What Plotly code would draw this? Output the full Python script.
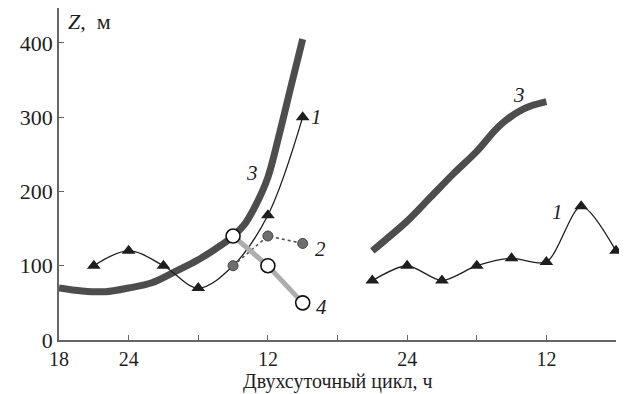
import plotly.graph_objects as go

# hours from 18:00 of day 1 (two-day cycle)
tick_hours = [0, 6, 12, 18, 24, 30, 36, 42, 48]
tick_labels = ["18", "24", "", "12", "", "24", "", "12", ""]
y_ticks = [0, 100, 200, 300, 400]

# series 1 (triangles)
s1a_x = [3, 6, 9, 12, 15, 18, 21]
s1a_y = [100, 120, 100, 70, 100, 168, 300]
s1a_marker_x = [3, 6, 9, 12, 18, 21]
s1a_marker_y = [100, 120, 100, 70, 168, 300]
s1b_x = [27, 30, 33, 36, 39, 42, 45, 48]
s1b_y = [80, 100, 80, 100, 110, 105, 180, 120]

# series 2 (gray dots, dotted)
s2_x = [15, 18, 21]
s2_y = [100, 140, 130]

# series 3 (thick curve)
s3a_x = [0, 2, 4, 6, 8, 10, 12, 14, 15, 16, 17, 18, 19, 20, 21]
s3a_y = [70, 66, 65, 70, 77, 92, 108, 128, 140, 156, 183, 219, 278, 342, 405]
s3b_x = [27, 28, 30, 32, 34, 36, 38, 40, 42]
s3b_y = [120, 133, 160, 192, 224, 254, 289, 311, 321]

# series 4 (open circles)
s4_x = [15, 18, 21]
s4_y = [140, 100, 50]

SERIF = '"Liberation Serif", "Times New Roman", "DejaVu Serif", serif'
INK = "#1e1e1e"

fig = go.Figure()

fig.add_trace(go.Scatter(x=s3a_x, y=s3a_y, mode="lines",
                         line=dict(color="#4d4d4d", width=7, shape="spline", smoothing=1.0)))
fig.add_trace(go.Scatter(x=s3b_x, y=s3b_y, mode="lines",
                         line=dict(color="#4d4d4d", width=7, shape="spline", smoothing=1.0)))

fig.add_trace(go.Scatter(x=s1a_x, y=s1a_y, mode="lines",
                         line=dict(color=INK, width=1.3, shape="spline", smoothing=1.0)))
fig.add_trace(go.Scatter(x=s1a_marker_x, y=s1a_marker_y, mode="markers",
                         marker=dict(symbol="triangle-up", size=12, color=INK)))
fig.add_trace(go.Scatter(x=s1b_x, y=s1b_y, mode="lines+markers",
                         line=dict(color=INK, width=1.3, shape="spline", smoothing=0.8),
                         marker=dict(symbol="triangle-up", size=12, color=INK)))

fig.add_trace(go.Scatter(x=s2_x, y=s2_y, mode="lines+markers",
                         line=dict(color="#555", width=1.6, dash="dot"),
                         marker=dict(size=10, color="#6e6e6e", line=dict(color="#444", width=1))))

fig.add_trace(go.Scatter(x=s4_x, y=s4_y, mode="lines+markers",
                         line=dict(color="#adadad", width=5),
                         marker=dict(size=14, color="white", line=dict(color="#111", width=1.6))))

for tr in fig.data:
    tr.cliponaxis = False
    tr.showlegend = False

lab_font = dict(family=SERIF, size=21, color=INK)
labels = [(22.2, 300, "1"), (43.0, 172, "1"), (22.5, 122, "2"), (16.6, 225, "3"),
          (39.6, 330, "3"), (22.6, 45, "4")]
for x, y, t in labels:
    fig.add_annotation(x=x, y=y, text=f"<i>{t}</i>", showarrow=False, font=lab_font,
                       xanchor="center", yanchor="middle")

fig.add_annotation(xref="paper", yref="paper", x=0.012, y=0.96, text="<i>Z</i>,  м",
                   showarrow=False, xanchor="left", yanchor="middle",
                   font=dict(family=SERIF, size=22, color=INK))
fig.add_annotation(xref="paper", yref="paper", x=0.5, y=-0.126,
                   text="Двухсуточный цикл, ч", showarrow=False,
                   xanchor="center", yanchor="middle",
                   font=dict(family=SERIF, size=20, color=INK))

# the page body has an 8px margin, so the figure is offset by 8px
fig.update_layout(
    width=619, height=386,
    margin=dict(l=51, r=11, t=0, b=54),
    paper_bgcolor="white", plot_bgcolor="white",
    font=dict(family=SERIF, size=21, color=INK),
    xaxis=dict(range=[0, 48], tickmode="array", tickvals=tick_hours, ticktext=tick_labels,
               ticks="inside", ticklen=5, tickcolor="#666", tickwidth=1.2,
               showline=True, linecolor="#666", linewidth=1.5, showgrid=False, zeroline=False,
               tickfont=dict(family=SERIF, size=20, color=INK)),
    yaxis=dict(range=[0, 447], tickmode="array", tickvals=y_ticks,
               ticks="inside", ticklen=5, tickcolor="#666", tickwidth=1.2,
               showline=True, linecolor="#666", linewidth=1.5, showgrid=False, zeroline=False,
               tickfont=dict(family=SERIF, size=22, color=INK)),
)

fig.write_html("out.html")
